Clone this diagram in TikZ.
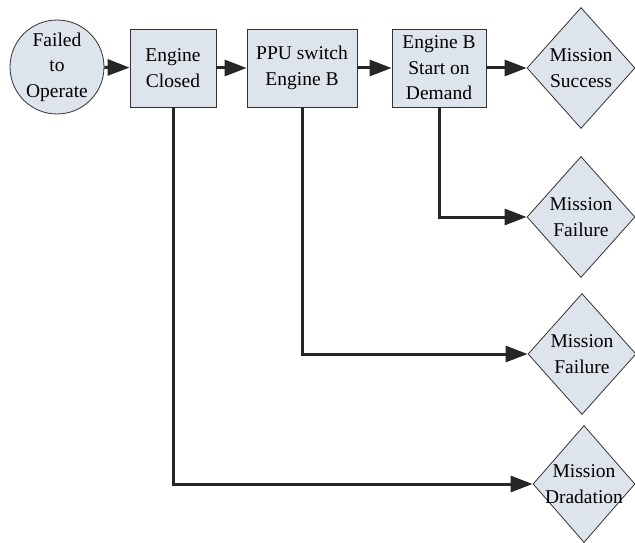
\documentclass[tikz,border=0pt]{standalone}
\usepackage{fontspec}
\setmainfont{Liberation Serif}
\usetikzlibrary{arrows.meta,shapes.geometric}
\definecolor{boxfill}{RGB}{221,228,236}
\tikzset{
  every picture/.style={line join=miter, >={Triangle[length=22pt,width=16pt]}},
  state/.style={circle,draw=black!80,fill=boxfill,line width=0.8pt,inner sep=0pt,minimum size=94pt,align=center},
  event/.style={rectangle,draw=black!80,fill=boxfill,line width=0.8pt,inner sep=0pt,minimum height=78pt,align=center},
  outcome/.style={diamond,draw=black!80,fill=boxfill,line width=0.8pt,inner sep=0pt,minimum width=108pt,minimum height=121pt},
  outtext/.style={align=center,inner sep=0pt},
  flow/.style={->,line width=3pt,draw=black!85},
}
\begin{document}
\begin{tikzpicture}[x=1pt,y=-1pt,font=\fontsize{19.5}{25.5}\selectfont]
\useasboundingbox(0,0)rectangle(635,543);
\node[state](fail)at(57,67){Failed\\to\\Operate};
\node[event,minimum width=86pt](closed)at(173,68){Engine\\Closed};
\node[event,minimum width=110pt](ppu)at(302,68){PPU switch\\Engine B};
\node[event,minimum width=94pt](start)at(439,68){Engine B\\Start on\\Demand};
\node[outcome,label={[outtext]center:Mission\\Success}](success)at(581,68){};
\node[outcome,label={[outtext]center:Mission\\Failure}](failA)at(581,217){};
\node[outcome,label={[outtext]center:Mission\\Failure}](failB)at(582,354){};
\node[outcome,minimum width=102pt,minimum height=117pt,label={[outtext]center:Mission\\Dradation}](degr)at(584,484){};
\draw[flow](fail)--(closed);
\draw[flow](closed)--(ppu);
\draw[flow](ppu)--(start);
\draw[flow](start)--(success);
\draw[flow](start.south)|-(failA.west);
\draw[flow](ppu.south)|-(failB.west);
\draw[flow](closed.south)|-(degr.west);
\end{tikzpicture}
\end{document}
